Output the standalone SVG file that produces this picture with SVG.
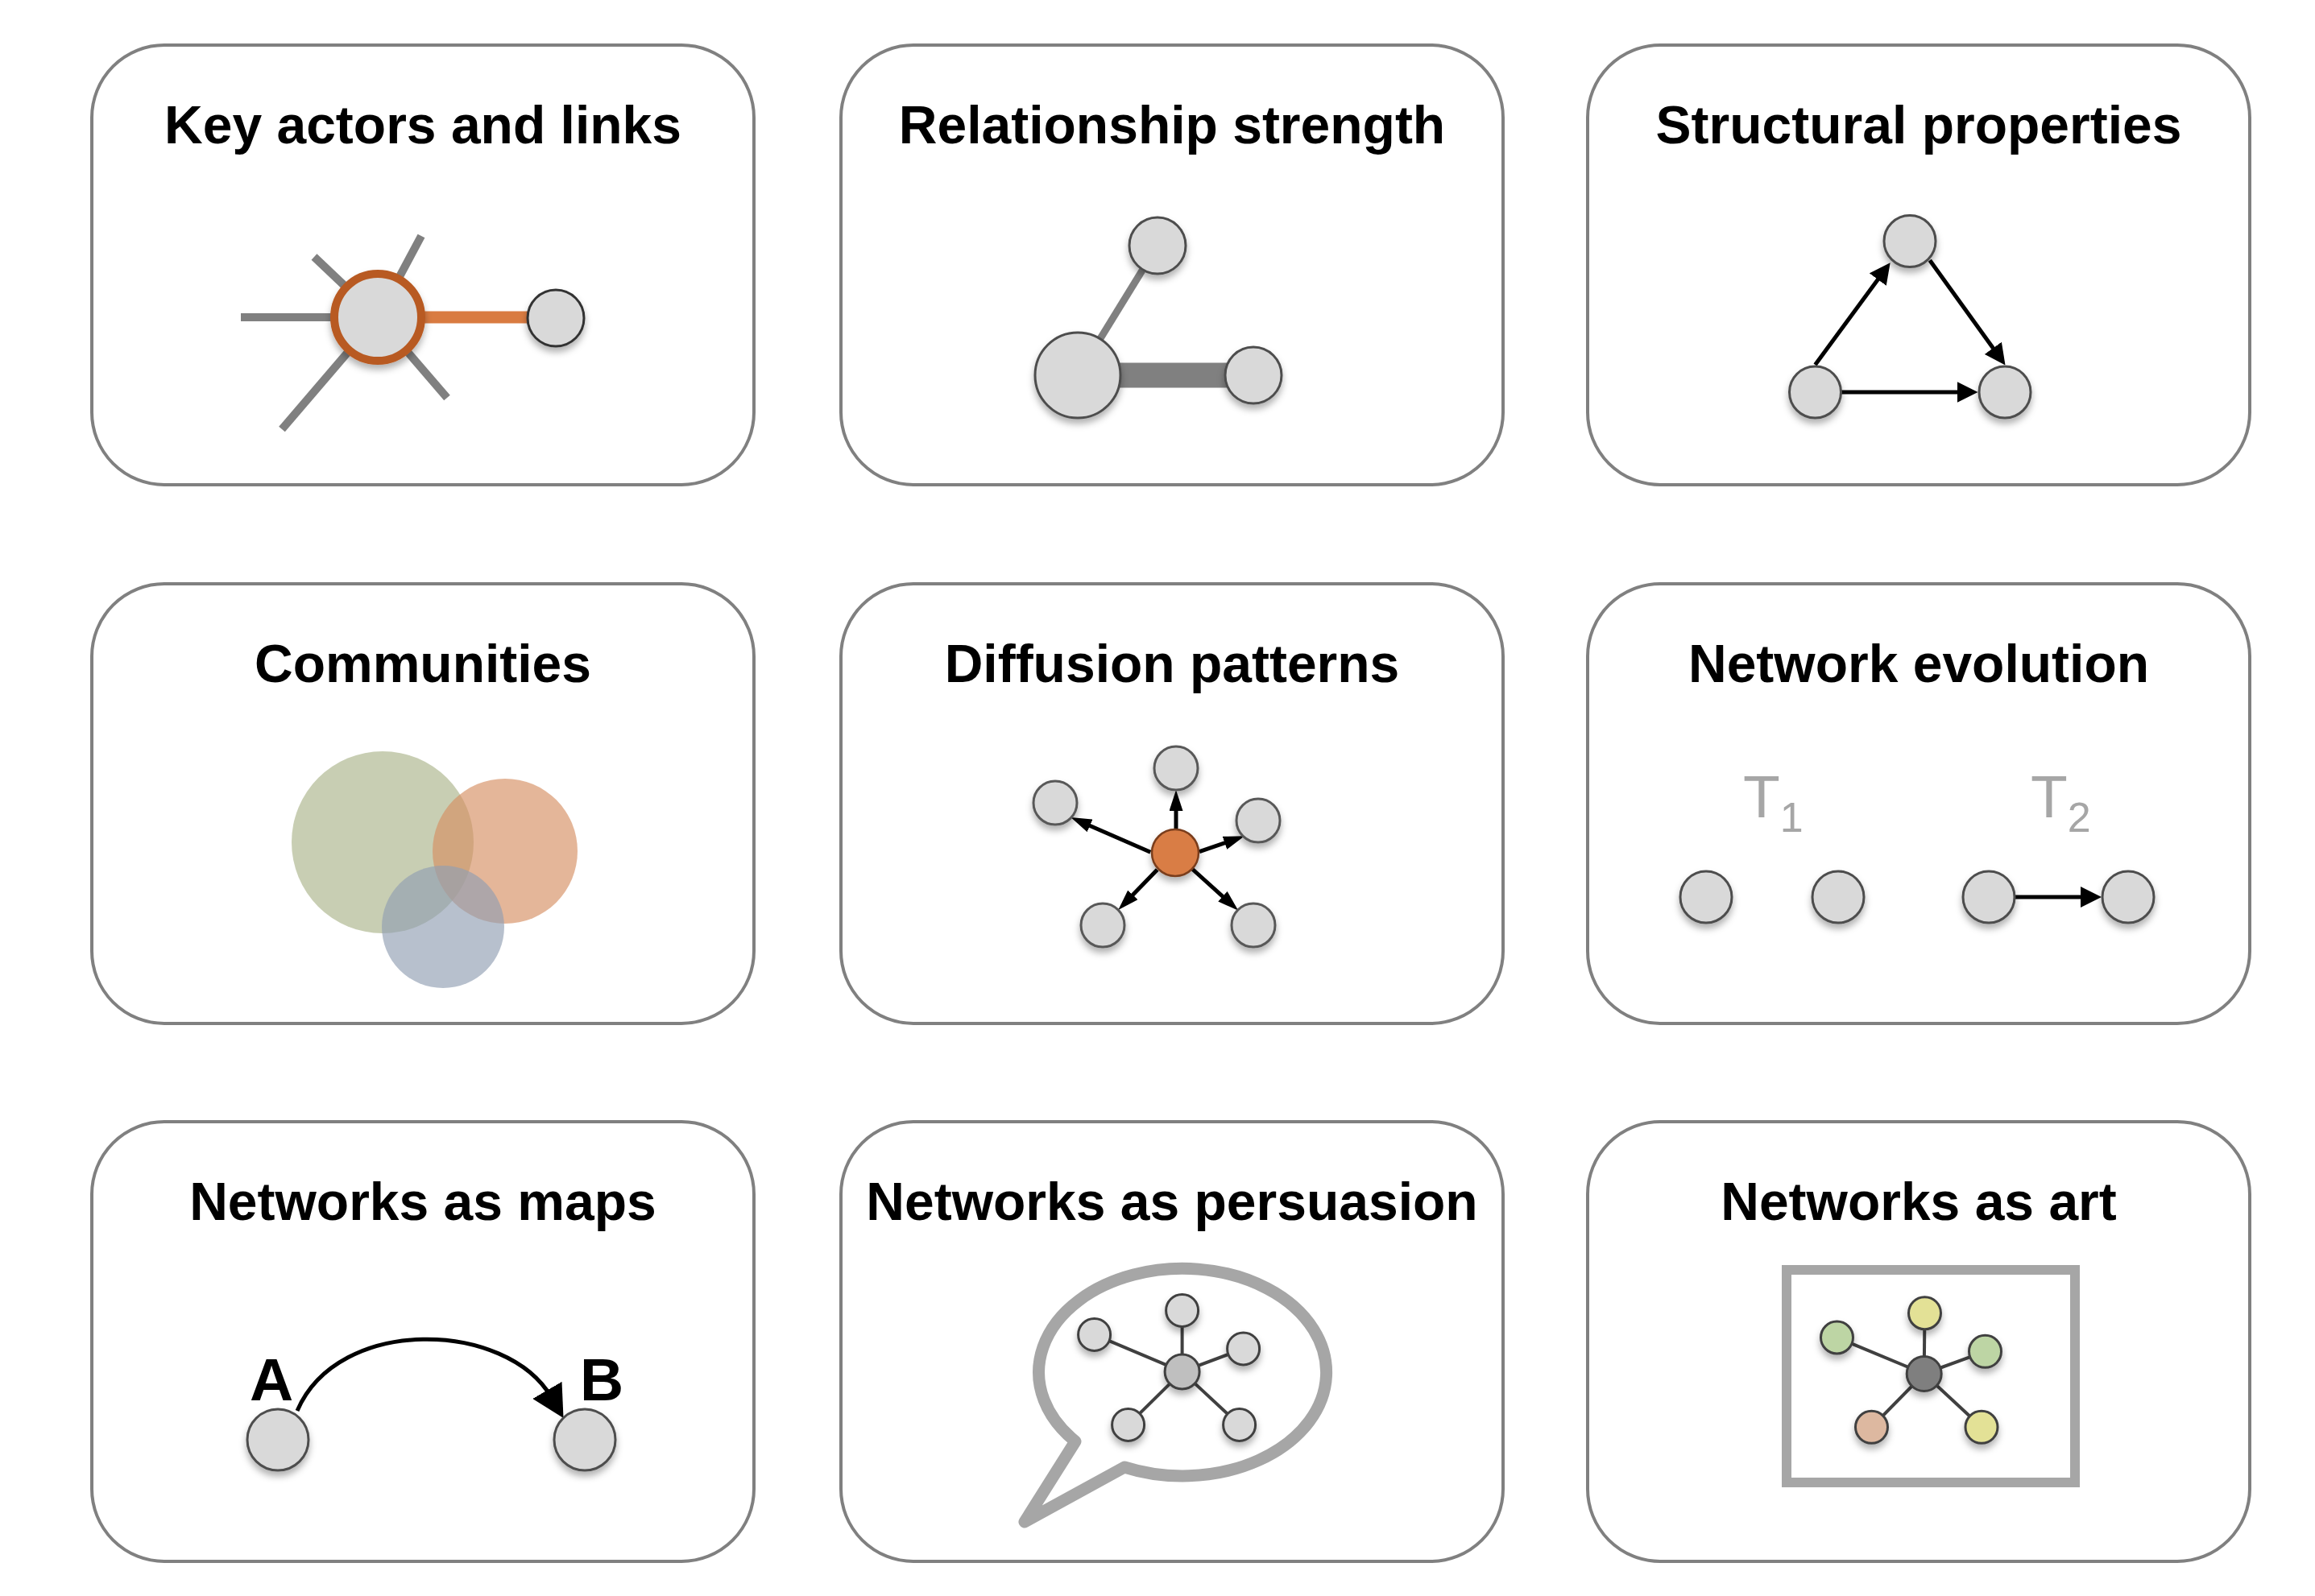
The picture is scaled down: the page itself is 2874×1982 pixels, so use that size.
<svg xmlns="http://www.w3.org/2000/svg" width="2874" height="1982" viewBox="0 0 2874 1982">
  <style>
    .panel { fill: #ffffff; stroke: #808080; stroke-width: 4; }
    .title { font-family: "Liberation Sans", Arial, sans-serif; font-weight: bold; font-size: 66px; fill: #000000; text-anchor: middle; }
    .node { fill: #d9d9d9; stroke: #4d4d4d; stroke-width: 3; filter: url(#shadow); }
    .node.soft { stroke: #595959; }
    .node.hub { fill: #d97d44; stroke: #7a3e1c; stroke-width: 2.5; }
    .node.dark { stroke: #3f3f3f; }
    .node.mid { fill: #bfbfbf; }
    .node.core { fill: #7f7f7f; }
    .node.yellow { fill: #e3e196; }
    .node.green { fill: #bdd5a4; }
    .node.pink { fill: #ddb8a0; }
    .tie { stroke: #808080; fill: none; }
    .arrow { stroke: #000000; stroke-width: 5; fill: none; }
    .spoke { stroke: #404040; stroke-width: 4; }
    .tlabel { font-family: "Liberation Sans", Arial, sans-serif; fill: #a6a6a6; font-size: 75px; }
    .letter { font-family: "Liberation Sans", Arial, sans-serif; font-weight: bold; font-size: 75px; fill: #000000; text-anchor: middle; }
  </style>
  <defs>
    <filter id="shadow" x="-50%" y="-50%" width="200%" height="200%">
      <feDropShadow dx="0" dy="6" stdDeviation="4" flood-color="#000000" flood-opacity="0.3"/>
    </filter>
    <marker id="head" markerUnits="userSpaceOnUse" markerWidth="26" markerHeight="26" refX="8" refY="13" orient="auto">
      <path d="M0,0 L26,13 L0,26 Z" fill="#000000"/>
    </marker>
    <marker id="headSmall" markerUnits="userSpaceOnUse" markerWidth="26" markerHeight="17" refX="8" refY="8.5" orient="auto">
      <path d="M0,0 L26,8.5 L0,17 Z" fill="#000000"/>
    </marker>
    <marker id="headBig" markerUnits="userSpaceOnUse" markerWidth="40" markerHeight="42" refX="10" refY="21" orient="auto">
      <path d="M0,0 L40,21 L0,42 Z" fill="#000000"/>
    </marker>
  </defs>

  <rect width="2874" height="1982" fill="#ffffff"/>

  <!-- Key actors and links -->
  <g id="panel-key-actors">
    <rect class="panel" x="114" y="56" width="822" height="546" rx="90" ry="90"/>
    <text class="title" x="525" y="178">Key actors and links</text>
    <g id="key-actors-links" class="tie" stroke-width="10">
      <line x1="299" y1="394" x2="420" y2="394"/>
      <line x1="390" y1="319" x2="469" y2="394"/>
      <line x1="523" y1="293" x2="469" y2="394"/>
      <line x1="350" y1="533" x2="469" y2="394"/>
      <line x1="555" y1="494" x2="469" y2="394"/>
      <line x1="500" y1="394" x2="660" y2="394" style="stroke:#d97b41;stroke-width:15"/>
    </g>
    <g id="key-actors-nodes">
      <circle cx="469" cy="394" r="54" fill="#d9d9d9" stroke="#b85a22" stroke-width="10" filter="url(#shadow)"/>
      <circle class="node" cx="690" cy="395" r="35" style="stroke:#333333"/>
    </g>
  </g>

  <!-- Relationship strength -->
  <g id="panel-relationship-strength">
    <rect class="panel" x="1044" y="56" width="822" height="546" rx="90" ry="90"/>
    <text class="title" x="1455" y="178">Relationship strength</text>
    <g id="strength-links" class="tie">
      <line x1="1338" y1="466" x2="1437" y2="305" stroke-width="9"/>
      <line x1="1338" y1="466" x2="1556" y2="466" stroke-width="31"/>
    </g>
    <g id="strength-nodes">
      <circle class="node" cx="1437" cy="305" r="35"/>
      <circle class="node" cx="1338" cy="466" r="53"/>
      <circle class="node" cx="1556" cy="466" r="35"/>
    </g>
  </g>

  <!-- Structural properties -->
  <g id="panel-structural-properties">
    <rect class="panel" x="1971" y="56" width="822" height="546" rx="90" ry="90"/>
    <text class="title" x="2382" y="178">Structural properties</text>
    <g id="structural-links" class="arrow">
      <line x1="2253.5" y1="453" x2="2336" y2="340.7" marker-end="url(#head)"/>
      <line x1="2395.8" y1="323.3" x2="2479" y2="438.8" marker-end="url(#head)"/>
      <line x1="2286" y1="487" x2="2437.5" y2="487" marker-end="url(#head)"/>
    </g>
    <g id="structural-nodes">
      <circle class="node" cx="2371" cy="299.5" r="32"/>
      <circle class="node" cx="2253.5" cy="487" r="32"/>
      <circle class="node" cx="2489" cy="487" r="32"/>
    </g>
  </g>

  <!-- Communities -->
  <g id="panel-communities">
    <rect class="panel" x="114" y="725" width="822" height="546" rx="90" ry="90"/>
    <text class="title" x="525" y="847">Communities</text>
    <g id="community-sets" fill-opacity="0.65">
      <circle cx="475" cy="1046" r="113" fill="#aab48a"/>
      <circle cx="627" cy="1057" r="90" fill="#d68f62"/>
      <circle cx="550" cy="1151" r="76" fill="#909eb2"/>
    </g>
  </g>

  <!-- Diffusion patterns -->
  <g id="panel-diffusion-patterns">
    <rect class="panel" x="1044" y="725" width="822" height="546" rx="90" ry="90"/>
    <text class="title" x="1455" y="847">Diffusion patterns</text>
    <g id="diffusion-links" class="arrow">
      <line x1="1460" y1="1029" x2="1460" y2="999" marker-end="url(#headSmall)"/>
      <line x1="1428.3" y1="1058.3" x2="1345.8" y2="1022.2" marker-end="url(#headSmall)"/>
      <line x1="1489" y1="1057.7" x2="1528" y2="1044.2" marker-end="url(#headSmall)"/>
      <line x1="1436.7" y1="1080" x2="1400.8" y2="1117.1" marker-end="url(#headSmall)"/>
      <line x1="1480" y1="1079" x2="1523.9" y2="1118.6" marker-end="url(#headSmall)"/>
    </g>
    <g id="diffusion-nodes">
      <circle class="node soft" cx="1460" cy="954" r="27"/>
      <circle class="node soft" cx="1310" cy="997" r="27"/>
      <circle class="node soft" cx="1562" cy="1019" r="27"/>
      <circle class="node soft" cx="1369" cy="1149" r="27"/>
      <circle class="node soft" cx="1556" cy="1149" r="27"/>
      <circle class="node hub" cx="1459" cy="1059" r="29"/>
    </g>
  </g>

  <!-- Network evolution -->
  <g id="panel-network-evolution">
    <rect class="panel" x="1971" y="725" width="822" height="546" rx="90" ry="90"/>
    <text class="title" x="2382" y="847">Network evolution</text>
    <g id="evolution-labels" class="tlabel">
      <text x="2164" y="1015">T<tspan dy="18" font-size="52">1</tspan></text>
      <text x="2521" y="1015">T<tspan dy="18" font-size="52">2</tspan></text>
    </g>
    <g id="evolution-links" class="arrow">
      <line x1="2501" y1="1114" x2="2591" y2="1114" marker-end="url(#head)"/>
    </g>
    <g id="evolution-nodes">
      <circle class="node" cx="2118" cy="1114" r="32"/>
      <circle class="node" cx="2282" cy="1114" r="32"/>
      <circle class="node" cx="2469" cy="1114" r="32"/>
      <circle class="node" cx="2642" cy="1114" r="32"/>
    </g>
  </g>

  <!-- Networks as maps -->
  <g id="panel-networks-as-maps">
    <rect class="panel" x="114" y="1393" width="822" height="546" rx="90" ry="90"/>
    <text class="title" x="525" y="1515">Networks as maps</text>
    <text class="letter" x="337" y="1739">A</text>
    <text class="letter" x="747" y="1739">B</text>
    <g id="maps-links" class="arrow">
      <path d="M369,1752 C420,1633 629,1640 684.4,1735.1" marker-end="url(#headBig)"/>
    </g>
    <g id="maps-nodes">
      <circle class="node" cx="345" cy="1788" r="38"/>
      <circle class="node" cx="726" cy="1788" r="38"/>
    </g>
  </g>

  <!-- Networks as persuasion -->
  <g id="panel-networks-as-persuasion">
    <rect class="panel" x="1044" y="1393" width="822" height="546" rx="90" ry="90"/>
    <text class="title" x="1455" y="1515">Networks as persuasion</text>
    <path id="speech-bubble" d="M1331,1790 A178.5,128.8 0 1 1 1392,1822 L1268,1890 Z" fill="#ffffff" stroke="#a6a6a6" stroke-width="15" stroke-linejoin="round" transform="translate(4,0)"/>
    <g transform="translate(1467.6,1703.4)">
      <g id="persuasion-links" class="spoke">
        <line x1="0" y1="0" x2="0" y2="-76"/>
        <line x1="0" y1="0" x2="-109" y2="-46"/>
        <line x1="0" y1="0" x2="76" y2="-28.5"/>
        <line x1="0" y1="0" x2="-67" y2="66"/>
        <line x1="0" y1="0" x2="71" y2="66"/>
      </g>
      <g id="persuasion-nodes">
        <circle class="node dark" cx="0" cy="-76" r="20"/>
        <circle class="node dark" cx="-109" cy="-46" r="20"/>
        <circle class="node dark" cx="76" cy="-28.5" r="20"/>
        <circle class="node dark" cx="-67" cy="66" r="20"/>
        <circle class="node dark" cx="71" cy="66" r="20"/>
        <circle class="node dark mid" cx="0" cy="0" r="21.5"/>
      </g>
    </g>
  </g>

  <!-- Networks as art -->
  <g id="panel-networks-as-art">
    <rect class="panel" x="1971" y="1393" width="822" height="546" rx="90" ry="90"/>
    <text class="title" x="2382" y="1515">Networks as art</text>
    <rect id="picture-frame" x="2218" y="1577" width="358" height="264" fill="none" stroke="#a6a6a6" stroke-width="12"/>
    <g transform="translate(2388.7,1706)">
      <g id="art-links" class="spoke">
        <line x1="0" y1="0" x2="0.8" y2="-75.3"/>
        <line x1="0" y1="0" x2="-108.2" y2="-45"/>
        <line x1="0" y1="0" x2="75.8" y2="-27.7"/>
        <line x1="0" y1="0" x2="-65.2" y2="66.3"/>
        <line x1="0" y1="0" x2="71.3" y2="66.3"/>
      </g>
      <g id="art-nodes">
        <circle class="node dark yellow" cx="0.8" cy="-75.3" r="20"/>
        <circle class="node dark green" cx="-108.2" cy="-45" r="20"/>
        <circle class="node dark green" cx="75.8" cy="-27.7" r="20"/>
        <circle class="node dark pink" cx="-65.2" cy="66.3" r="20"/>
        <circle class="node dark yellow" cx="71.3" cy="66.3" r="20"/>
        <circle class="node dark core" cx="0" cy="0" r="21.5"/>
      </g>
    </g>
  </g>
</svg>
